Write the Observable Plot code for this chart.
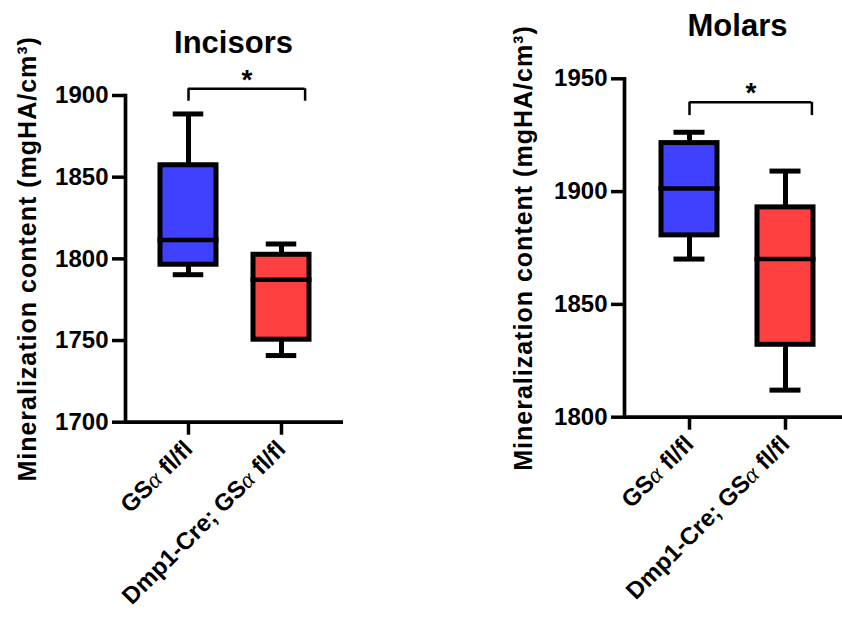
<!DOCTYPE html>
<html><head><meta charset="utf-8">
<script src="https://cdn.jsdelivr.net/npm/d3@7"></script>
<script src="https://cdn.jsdelivr.net/npm/@observablehq/plot@0.6"></script>
<style>
body{margin:0;background:#fff;}
#wrap{position:relative;width:842px;height:622px;overflow:hidden;}
#wrap > div{position:absolute;top:0;}
svg{font-family:"Liberation Sans",Arial,sans-serif;}
</style></head><body>
<div id="wrap"><div id="p1" style="left:0"></div><div id="p2" style="left:420px"></div></div>
<script>
const groups = ["GSα fl/fl", "Dmp1-Cre; GSα fl/fl"];
const boxColors = ["#4040ff", "#ff4040"];
const yLabel = "Mineralization content (mgHA/cm³)";

// Incisors
const incisorsMin    = [1790.3, 1740.8];
const incisorsQ1     = [1796.4, 1750.5];
const incisorsMedian = [1811.5, 1787.2];
const incisorsQ3     = [1857.3, 1802.5];
const incisorsMax    = [1888.7, 1809.1];
const incisorsTicks  = [1700, 1750, 1800, 1850, 1900];
const incisorsSig    = {label: "*", y: 1904.1, legLow: 1896.5};

// Molars
const molarsMin    = [1870.1, 1812.0];
const molarsQ1     = [1880.6, 1832.1];
const molarsMedian = [1901.4, 1870.1];
const molarsQ3     = [1921.5, 1893.0];
const molarsMax    = [1926.3, 1909.1];
const molarsTicks  = [1800, 1850, 1900, 1950];
const molarsSig    = {label: "*", y: 1939.6, legLow: 1933.7};

function panel(o) {
  const data = groups.map((g, i) => ({
    group: g, min: o.mins[i], q1: o.q1s[i], median: o.meds[i], q3: o.q3s[i], max: o.maxs[i], color: boxColors[i]
  }));
  const [r0, r1] = o.xRange;
  const step = (r1 - r0) / (groups.length + o.padding);
  const bw = step * (1 - o.padding);
  const yDomain = [o.ticks[0], o.ticks[o.ticks.length - 1]];
  const sig = o.sig;
  const svg = Plot.plot({
    width: o.width, height: 622,
    marginTop: o.marginTop, marginBottom: o.marginBottom,
    marginLeft: o.marginLeft, marginRight: o.marginRight,
    style: {fontFamily: '"Liberation Sans", Arial, sans-serif', background: "white"},
    x: {domain: groups, range: o.xRange, padding: o.padding, axis: null},
    y: {domain: yDomain, axis: null},
    color: {type: "identity"},
    marks: [
      Plot.ruleX(data, {x: "group", y1: "q3", y2: "max", strokeWidth: 5}),
      Plot.ruleX(data, {x: "group", y1: "q1", y2: "min", strokeWidth: 5}),
      Plot.tickY(data, {x: "group", y: "max", strokeWidth: 5, inset: o.capInset}),
      Plot.tickY(data, {x: "group", y: "min", strokeWidth: 5, inset: o.capInset}),
      Plot.barY(data, {x: "group", y1: "q1", y2: "q3", fill: "color", stroke: "black", strokeWidth: 5, insetLeft: 3, insetRight: 3}),
      Plot.tickY(data, {x: "group", y: "median", strokeWidth: 4.5, inset: 0.5}),
      // significance bracket
      Plot.ruleY([sig], {x1: () => groups[0], x2: () => groups[1], y: "y", insetLeft: bw / 2, insetRight: bw / 2 - o.legOffset, strokeWidth: 2.5}),
      Plot.ruleX([sig], {x: () => groups[0], y1: "legLow", y2: "y", strokeWidth: 2.5}),
      Plot.ruleX([sig], {x: () => groups[1], y1: "legLow", y2: "y", dx: o.legOffset, strokeWidth: 2.5}),
      Plot.text([sig], {x: () => groups[0], y: "y", text: "label", dx: (step + o.legOffset) / 2, lineAnchor: "bottom", fontSize: 28, fontWeight: "bold"}),
      // axes
      Plot.ruleY([yDomain[0]], {strokeWidth: 3.7}),
      Plot.frame({anchor: "left", strokeWidth: 3.7}),
      Plot.axisY({ticks: o.ticks, tickSize: 13, tickPadding: 4, tickFormat: d => String(d), fontSize: 24, fontWeight: "bold", strokeWidth: 3.5, label: null}),
      Plot.axisX({tickSize: 13, tickPadding: 10, tickRotate: -45, fontSize: 24, fontWeight: "bold", strokeWidth: 3.5, label: null}),
      Plot.text([o.title], {text: d => d, frameAnchor: "top", dx: o.titleDx, dy: o.titleDy, lineAnchor: "bottom", fontSize: 31, fontWeight: "bold"}),
      Plot.text([yLabel], {text: d => d, frameAnchor: "left", textAnchor: "middle", rotate: -90, dx: o.labelDx, lineAnchor: "bottom", fontSize: 25, fontWeight: "bold"})
    ]
  });
  // style alpha glyphs and label spacing
  d3.select(svg).selectAll("text").each(function () {
    const t = this.textContent;
    if (t.includes("Mineralization")) this.style.letterSpacing = "1px";
    if (!t.includes("α") || this.querySelector("tspan")) return;
    const parts = t.split("α");
    this.textContent = "";
    parts.forEach((p, i) => {
      if (i > 0) {
        d3.select(this).append("tspan").attr("font-family", '"Liberation Serif", serif')
          .attr("font-style", "italic").attr("font-weight", "normal").text("α");
      }
      if (p) d3.select(this).append("tspan").text(p);
    });
  });
  return svg;
}

document.getElementById("p1").append(panel({
  title: "Incisors", mins: incisorsMin, q1s: incisorsQ1, meds: incisorsMedian, q3s: incisorsQ3, maxs: incisorsMax,
  ticks: incisorsTicks, sig: incisorsSig,
  width: 421, marginTop: 95, marginBottom: 200.3, marginLeft: 125, marginRight: 78,
  xRange: [125, 343], padding: 0.335, capInset: 15.75, legOffset: 23.6,
  titleDx: -1, titleDy: -42.3, labelDx: -90
}));
document.getElementById("p2").append(panel({
  title: "Molars", mins: molarsMin, q1s: molarsQ1, meds: molarsMedian, q3s: molarsQ3, maxs: molarsMax,
  ticks: molarsTicks, sig: molarsSig,
  width: 422, marginTop: 78.3, marginBottom: 205.3, marginLeft: 204, marginRight: 0,
  xRange: [204, 430.25], padding: 0.35, capInset: 15.5, legOffset: 26.4,
  titleDx: 4, titleDy: -43.3, labelDx: -92.3
}));
</script>
</body></html>
